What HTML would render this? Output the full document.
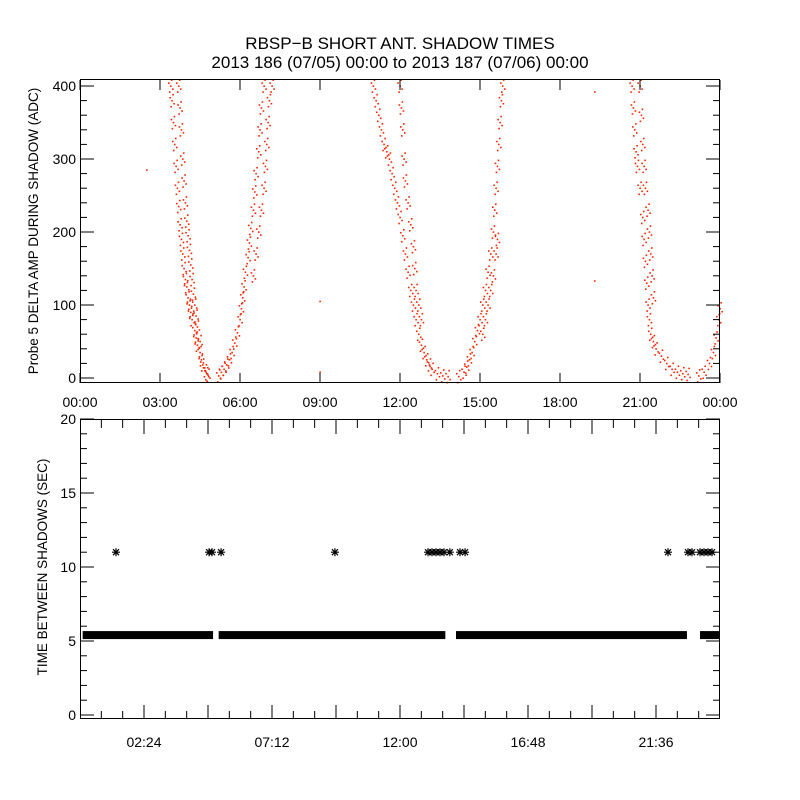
<!DOCTYPE html>
<html><head><meta charset="utf-8"><style>
body{margin:0;background:#fff}
svg{display:block;font-family:"Liberation Sans",sans-serif}
</style></head><body>
<svg id="c" width="800" height="800">
<rect width="800" height="800" fill="#fff"/>
<text x="400" y="49" text-anchor="middle" font-size="17">RBSP−B SHORT ANT. SHADOW TIMES</text>
<text x="400" y="68" text-anchor="middle" font-size="17">2013 186 (07/05) 00:00 to 2013 187 (07/06) 00:00</text>
<text transform="translate(38,231) rotate(-90)" text-anchor="middle" font-size="13.5">Probe 5 DELTA AMP DURING SHADOW (ADC)</text>
<text transform="translate(47,567) rotate(-90)" text-anchor="middle" font-size="13.5">TIME BETWEEN SHADOWS (SEC)</text>
<g id="top"></g><g id="bot"></g>
</svg>
<script>
// top panel data: hours, values
const topHours=[3.4,3.45,3.5,3.55,3.6,3.65,3.7,3.75,3.8,3.85,3.9,3.95,4.0,4.05,4.1,4.15,4.2,4.3,4.35,4.4,4.5,4.55,4.6,4.7,4.75,4.8,
3.7,3.75,3.8,3.85,3.9,3.95,4.0,4.05,4.1,4.15,4.2,4.25,4.3,4.35,4.4,4.5,
5.2,5.3,5.4,5.5,5.6,5.7,5.8,5.9,6.0,6.05,6.1,6.15,6.2,6.3,6.35,6.4,6.5,6.55,6.6,6.7,6.75,6.8,6.9,
6.5,6.6,6.7,6.8,6.9,6.95,7.0,7.05,7.1,7.2,
11.0,11.1,11.2,11.3,11.4,11.5,11.6,11.7,11.8,11.9,12.0,12.1,12.2,12.3,12.4,12.5,12.6,12.7,12.8,12.9,13.0,13.1,13.2,13.4,13.6,13.8,
12.0,12.05,12.1,12.15,12.2,12.3,12.4,12.5,12.55,12.6,12.7,12.8,
14.2,14.4,14.5,14.6,14.7,14.8,14.9,15.0,15.1,15.2,15.3,15.4,15.5,15.55,15.6,15.65,15.7,15.75,15.8,15.85,
15.1,15.2,15.3,15.4,15.5,15.6,15.65,
20.7,20.75,20.8,20.85,20.9,21.0,21.1,21.15,21.2,21.25,21.3,21.35,21.4,21.5,21.6,21.8,22.0,22.2,22.4,22.6,22.8,
21.0,21.05,21.1,21.15,21.2,21.3,21.35,21.4,21.45,21.5,
23.2,23.4,23.6,23.75,23.85,23.95,24.0];
const topValues=[400,380,350,320,290,260,235,210,190,170,150,135,125,110,100,90,80,65,55,45,35,25,18,10,6,4,
400,370,340,300,270,240,215,195,175,155,135,115,100,85,70,50,
3,8,12,18,25,35,48,62,80,95,110,125,145,165,185,205,230,255,280,310,340,370,400,
140,170,200,230,260,290,320,350,380,400,
400,380,360,340,320,310,300,280,260,240,220,195,170,145,120,100,80,60,45,35,25,18,12,6,3,2,
400,370,340,300,270,240,210,180,150,120,100,80,
2,8,15,25,35,50,65,80,100,120,145,170,200,230,260,290,320,350,380,400,
60,80,100,120,140,170,190,
400,370,340,310,290,260,220,190,160,130,100,80,60,50,40,30,20,12,8,6,5,
400,360,320,290,260,230,200,170,140,110,
3,8,20,35,55,80,95];
const outlierHours=[2.5,9.0,9.0,19.3,19.3];
const outlierValues=[285,105,8,392,133];
const topYTicks=[0,100,200,300,400];
const topXTicks=["00:00","03:00","06:00","09:00","12:00","15:00","18:00","21:00","00:00"];
// bottom panel data
const bandStart=[0.1,5.2,14.1,23.25];
const bandEnd=[4.99,13.7,22.76,24];
const bandValue=5.4;
const starHours=[1.35,4.84,4.95,5.29,9.56,13.05,13.2,13.35,13.5,13.65,13.87,14.25,14.44,22.05,22.8,22.95,23.25,23.4,23.55,23.7];
const starValues=[11,11,11,11,11,11,11,11,11,11,11,11,11,11,11,11,11,11,11,11];
const botYTicks=[0,5,10,15,20];
const botXTicks=["02:24","07:12","12:00","16:48","21:36"];

const NS="http://www.w3.org/2000/svg";
function mk(p,t,a){const e=document.createElementNS(NS,t);for(const k in a)e.setAttribute(k,a[k]);p.appendChild(e);return e;}
const X0=80,X1=720;
const xh=h=>X0+(X1-X0)*h/24;
// top
const T=document.getElementById('top');
const ty=v=>378-v*(378-86)/400;
for(let i=0;i<topHours.length;i++){
  const x=xh(topHours[i]),y=ty(topValues[i]);
  if(y<80)continue;
  const offs=[[0,0],[2,3],[-2,-3],[1,-6],[-1,6]];
  for(const o of offs){
    const r=mk(T,'rect',{x:x+o[0]-0.7,y:y+o[1]-0.7,width:1.6,height:1.6,fill:'#ff2200'});
    
    
  }
}
for(let i=0;i<outlierHours.length;i++){
  const r=mk(T,'rect',{x:xh(outlierHours[i])-0.7,y:ty(outlierValues[i])-0.7,width:1.6,height:1.6,fill:'#ff2200'});
  
  
}
let f=mk(T,'rect',{x:80.5,y:79.5,width:639,height:303,fill:'none',stroke:'#000'});

for(let v=0;v<=400;v+=20){const y=ty(v),l=v%100===0?14:7;mk(T,'line',{x1:80,x2:80+l,y1:y,y2:y,stroke:'#000'});mk(T,'line',{x1:720,x2:720-l,y1:y,y2:y,stroke:'#000'});}
topYTicks.forEach(v=>{const t=mk(T,'text',{x:76,y:ty(v)+5,'text-anchor':'end','font-size':14});t.textContent=v;
});
topXTicks.forEach((s,i)=>{const x=xh(i*3);mk(T,'line',{x1:x,x2:x,y1:383,y2:373,stroke:'#000'});mk(T,'line',{x1:x,x2:x,y1:80,y2:90,stroke:'#000'});
const t=mk(T,'text',{x:x,y:407,'text-anchor':'middle','font-size':14});t.textContent=s;
});
// bottom
const B=document.getElementById('bot');
const by=v=>715-v*(715-419)/20;
for(let i=0;i<bandStart.length;i++){const r=mk(B,'rect',{x:xh(bandStart[i]),y:by(bandValue)-4,width:xh(bandEnd[i])-xh(bandStart[i]),height:8,fill:'#000'});
}
for(let i=0;i<starHours.length;i++){
  const x=xh(starHours[i]),y=by(starValues[i]);
  const g=mk(B,'path',{d:`M${x-4},${y}H${x+4}M${x},${y-4}V${y+4}M${x-3},${y-3}L${x+3},${y+3}M${x-3},${y+3}L${x+3},${y-3}`,stroke:'#000','stroke-width':1.2});
  
  
}
f=mk(B,'rect',{x:80.5,y:419.5,width:639,height:299,fill:'none',stroke:'#000'});

for(let v=0;v<=20;v++){const y=by(v),l=v%5===0?14:7;mk(B,'line',{x1:80,x2:80+l,y1:y,y2:y,stroke:'#000'});mk(B,'line',{x1:720,x2:720-l,y1:y,y2:y,stroke:'#000'});}
botYTicks.forEach(v=>{const t=mk(B,'text',{x:76,y:by(v)+5,'text-anchor':'end','font-size':14});t.textContent=v;
});
for(let k=1;k<30;k++){const h=k*0.8,x=xh(h),l=k%3===0?14:8;mk(B,'line',{x1:x,x2:x,y1:719,y2:719-l,stroke:'#000'});mk(B,'line',{x1:x,x2:x,y1:420,y2:420+l,stroke:'#000'});}
botXTicks.forEach((s,i)=>{const x=xh(2.4+i*4.8);const t=mk(B,'text',{x:x,y:747,'text-anchor':'middle','font-size':14});t.textContent=s;
});
</script>
</body></html>
